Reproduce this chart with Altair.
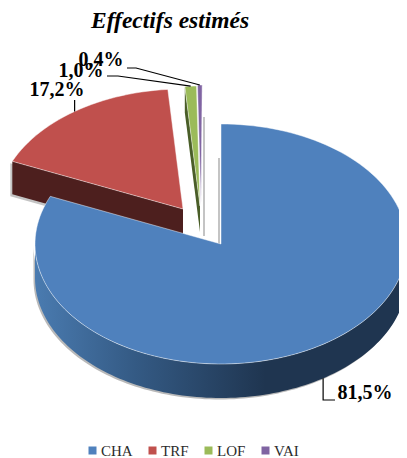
import math
import altair as alt
import pandas as pd

categories = ["CHA", "TRF", "LOF", "VAI"]
shares = [81.5, 17.2, 1.0, 0.4]
share_labels = ["81,5%", "17,2%", "1,0%", "0,4%"]
face_colors = ["#4f81bd", "#c0504d", "#9bbb59", "#8064a2"]

# projection of the tilted, exploded pie (layout only)
RX, RY = 186, 120
APEX = {"CHA": (221, 244), "TRF": (183, 209), "LOF": (200, 206), "VAI": (201, 205)}
DEPTH = {"CHA": 34, "TRF": 33, "LOF": 26}

FONT = "Liberation Serif"
W, H = 391, 450

spans = {}
start = 0.0
for c, s in zip(categories, shares):
    spans[c] = (start, start + s / 100 * 360)
    start = spans[c][1]


def rim(cat, a0, a1, n=90, dy=0.0, shift=(0, 0)):
    cx, cy = APEX[cat]
    out = []
    for k in range(n + 1):
        a = math.radians(a0 + (a1 - a0) * k / n)
        out.append((cx + shift[0] + RX * math.sin(a), cy + shift[1] + dy - RY * math.cos(a)))
    return out


rows = []


def add(piece, pts):
    for i, (x, y) in enumerate(pts):
        rows.append({"piece": piece, "i": i, "x": x, "y": y})


for c in categories:
    a0, a1 = spans[c]
    n = max(4, int((a1 - a0) / 2))
    add("top_" + c, [APEX[c]] + rim(c, a0, a1, n) + [APEX[c]])

# visible outer wall of the large slice
wall_top = rim("CHA", 90, 270, 120)
wall_bot = rim("CHA", 270, 90, 120, dy=DEPTH["CHA"])
add("wall_CHA", wall_top + wall_bot + wall_top[:1])
add("shadow_CHA", [(x - 1.5, y + 1.5) for x, y in wall_top + wall_bot + wall_top[:1]])

# visible cut faces
for c in ["TRF", "LOF"]:
    p = rim(c, spans[c][0], spans[c][0], 1)[0]
    ax, ay = APEX[c]
    d = DEPTH[c]
    add("cut_" + c, [p, (ax, ay), (ax, ay + d), (p[0], p[1] + d), p])
    add("shadow_" + c, [(x - 2, y + 2) for x, y in [p, (ax, ay), (ax, ay + d), (p[0], p[1] + d), p]])

df = pd.DataFrame(rows)

X = alt.X("x:Q", scale=alt.Scale(domain=[8, 8 + W], nice=False, zero=False), axis=None)
Y = alt.Y("y:Q", scale=alt.Scale(domain=[8 + H, 8], nice=False, zero=False), axis=None)
legend = alt.Legend(
    title=None, orient="none", legendX=77, legendY=435, direction="horizontal", gridAlign="none",
    symbolType="square", symbolSize=64, symbolStrokeWidth=0, symbolOffset=0, labelFont=FONT, labelFontSize=15,
    labelColor="#2b2b2b", columnPadding=12, labelOffset=1, padding=0,
)
COLOR = alt.Color("cat:N", scale=alt.Scale(domain=categories, range=face_colors), legend=legend)


def solid(piece, fill, **kw):
    return (
        alt.Chart(df[df.piece == piece])
        .mark_line(fill=fill, filled=True, strokeWidth=0, **kw)
        .encode(x=X, y=Y, order=alt.Order("i:Q"))
    )


def face(cat):
    d = df[df.piece == "top_" + cat].assign(cat=cat)
    return (
        alt.Chart(d)
        .mark_line(filled=True, stroke="#ffffff", strokeOpacity=0.45, strokeWidth=1)
        .encode(x=X, y=Y, order=alt.Order("i:Q"), color=COLOR)
    )


wall_fill = alt.LinearGradient(
    gradient="linear", x1=0, y1=0, x2=1, y2=0,
    stops=[
        alt.GradientStop(color="#4a7bb0", offset=0),
        alt.GradientStop(color="#345a84", offset=0.27),
        alt.GradientStop(color="#1f3550", offset=0.62),
        alt.GradientStop(color="#1f3550", offset=1),
    ],
)

# soft grey traces left by the pie's shadow
shadow_x = [204, 204, 219, 219]
shadow_y = [117, 236, 158, 244]
shadow_df = pd.DataFrame({"x": shadow_x, "y": shadow_y, "g": ["a", "a", "b", "b"]})
shadows = (
    alt.Chart(shadow_df)
    .mark_line(color="#8a8a8a", strokeWidth=2, opacity=0.5)
    .encode(x=X, y=Y, detail="g:N")
)

# leader lines, anchored on each slice's rim
leader_rows = []
mid_cha = rim("CHA", sum(spans["CHA"]) / 2, sum(spans["CHA"]) / 2, 1, dy=DEPTH["CHA"])[0]
mid_trf = rim("TRF", sum(spans["TRF"]) / 2, sum(spans["TRF"]) / 2, 1)[0]
mid_lof = rim("LOF", sum(spans["LOF"]) / 2, sum(spans["LOF"]) / 2, 1)[0]
mid_vai = rim("VAI", sum(spans["VAI"]) / 2, sum(spans["VAI"]) / 2, 1)[0]
paths = {
    "CHA": [mid_cha, (mid_cha[0], 400), (335, 400)],
    "TRF": [mid_trf, (mid_trf[0], 100)],
    "LOF": [mid_lof, (118, 76), (107, 76)],
    "VAI": [mid_vai, (136, 68), (127, 68)],
}
for c, pts in paths.items():
    for i, (x, y) in enumerate(pts):
        leader_rows.append({"cat": c, "i": i, "x": x, "y": y})
leader_layer = (
    alt.Chart(pd.DataFrame(leader_rows))
    .mark_line(color="#000000", strokeWidth=1.2)
    .encode(x=X, y=Y, detail="cat:N", order=alt.Order("i:Q"))
)

label_df = pd.DataFrame(
    {"label": share_labels, "x": [365, 57, 81, 101], "y": [393, 90, 71, 60]}
)
labels = (
    alt.Chart(label_df)
    .mark_text(font=FONT, fontWeight="bold", fontSize=20, color="#000000", align="center", baseline="middle")
    .encode(x=X, y=Y, text="label:N")
)

chart = (
    alt.layer(
        solid("shadow_TRF", "#8a8a8a", opacity=0.5),
        solid("cut_TRF", "#4d1f1e"),
        face("TRF"),
        solid("cut_LOF", "#4a5e28"),
        face("LOF"),
        face("VAI"),
        shadows,
        solid("shadow_CHA", "#8a8a8a", opacity=0.6),
        solid("wall_CHA", wall_fill),
        face("CHA"),
        leader_layer,
        labels,
    )
    .resolve_scale(color="shared")
    .properties(
        width=W,
        height=H,
        padding=0,
        autosize=alt.AutoSizeParams(type="none"),
        title=alt.TitleParams(
            "Effectifs estimés", font=FONT, fontSize=23.5, fontWeight="bold", fontStyle="italic",
            color="#000000", anchor="start", dx=83, dy=24, offset=0,
        ),
    )
    .configure_view(stroke=None)
)

chart.save("out.html", embed_options={"renderer": "svg", "actions": False})
